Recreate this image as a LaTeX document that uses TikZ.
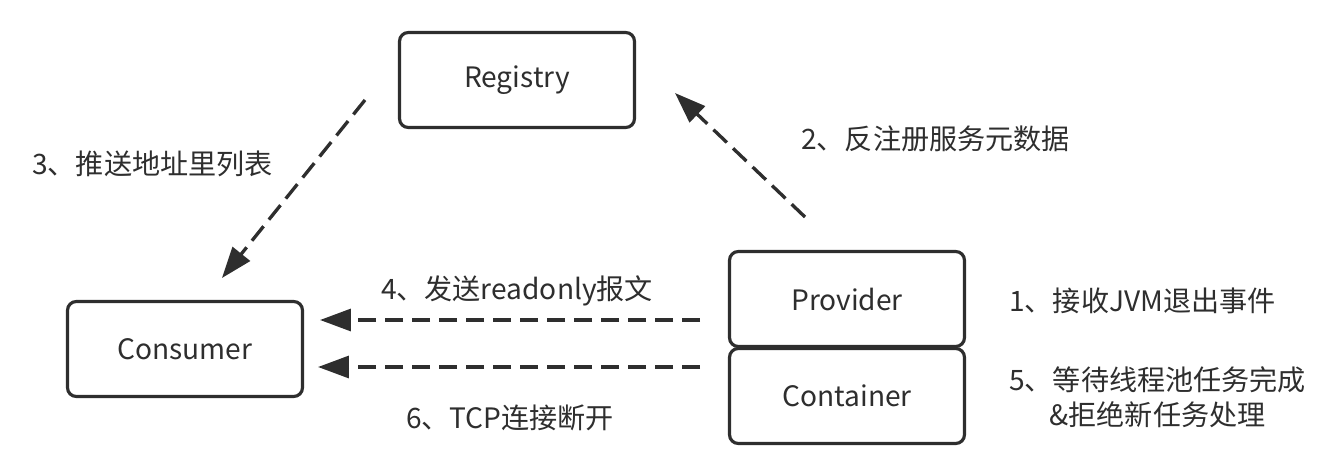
\documentclass[tikz,border=0pt]{standalone}
\usepackage{fontspec}
\setmainfont{Noto Sans CJK SC}
\usetikzlibrary{arrows.meta}
\definecolor{ink}{HTML}{2E2E2E}
\begin{document}
\begin{tikzpicture}
  [x=0.02cm,y=-0.02cm,
   every node/.style={font=\fontsize{16}{20}\selectfont,text=ink},
   box/.style={draw=ink,line width=1.8pt,rounded corners=5pt,minimum width=4.7cm,minimum height=1.9cm},
   msg/.style={draw=ink,line width=1.9pt,dash pattern=on 0.37cm off 0.17cm,-{Triangle[length=0.62cm,width=0.44cm]}}]
  \useasboundingbox (0,0) rectangle (1334,470);
  \node[box] (reg) at (517,80) {Registry};
  \node[box] (con) at (185,349) {Consumer};
  \node[box] (pro) at (847,299) {Provider};
  \node[box] (ctn) at (847,396) {Container};

  \coordinate (a3) at (365,100);
  \coordinate (b3) at (222,278);
  \coordinate (a2) at (805,217);
  \coordinate (b2) at (675,93);
  \coordinate (a4) at (700,320);
  \coordinate (b4) at (320,320);
  \coordinate (a6) at (700,367);
  \coordinate (b6) at (318,367);

  \foreach \from/\to in {a3/b3,a2/b2,a4/b4,a6/b6}
    \draw[msg] (\from) -- (\to);

  \node[anchor=west] (t3) at (26,164) {3、推送地址里列表};
  \node[anchor=west] (t2) at (795,139) {2、反注册服务元数据};
  \node (t4) at (517,291) {4、发送readonly报文};
  \node (t6) at (510,418) {6、TCP连接断开};
  \node[anchor=west] (t1) at (1003,301) {1、接收JVM退出事件};
  \node[anchor=west,align=center] (t5) at (1003,397) {5、等待线程池任务完成\\\&拒绝新任务处理};
\end{tikzpicture}
\end{document}
